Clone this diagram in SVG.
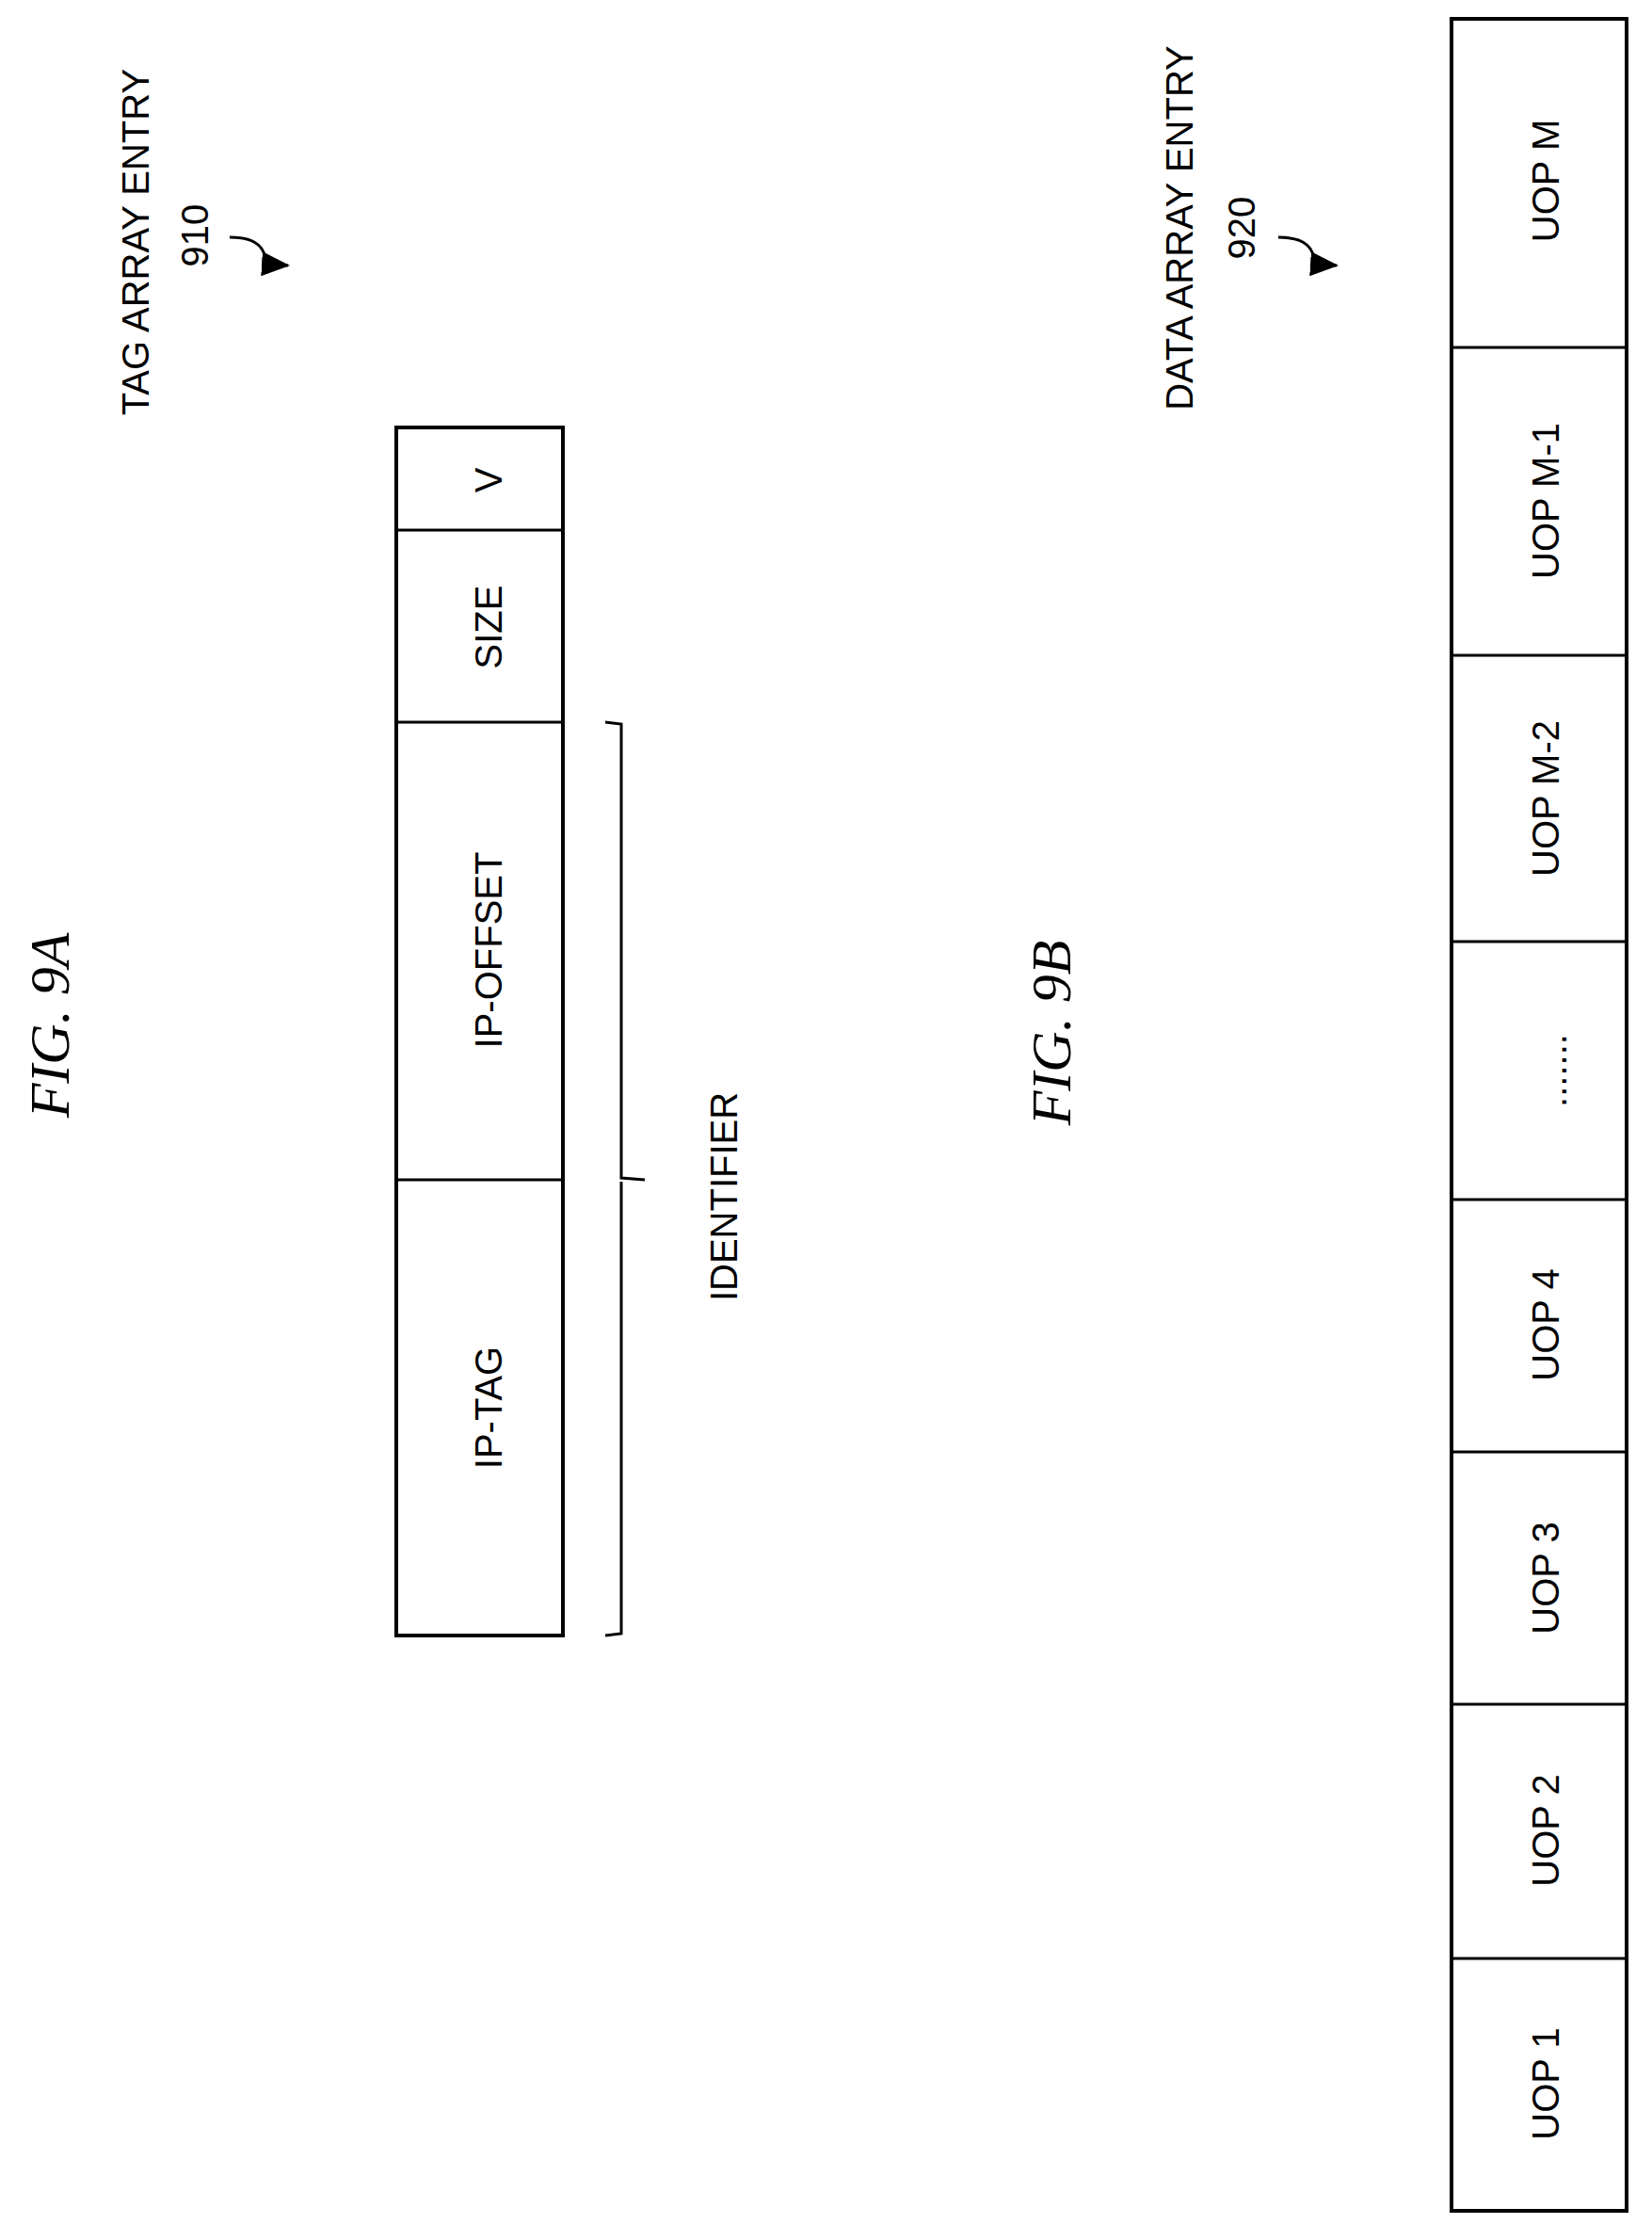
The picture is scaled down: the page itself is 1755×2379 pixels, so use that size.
<svg xmlns="http://www.w3.org/2000/svg" width="1755" height="2379" viewBox="0 0 1755 2379">
<style>
.t{font-family:"Liberation Sans",Arial,sans-serif;font-size:40px;fill:#000;text-anchor:middle;dominant-baseline:central}
.f{font-family:"Liberation Serif","Times New Roman",serif;font-style:italic;font-size:60px;fill:#000;text-anchor:middle;dominant-baseline:central}
.b{fill:#fff;stroke:#000;stroke-width:4}
.l{fill:none;stroke:#000;stroke-width:3}
</style>
<defs>
<marker id="ah2" markerWidth="30" markerHeight="26" refX="28" refY="13" orient="auto" markerUnits="userSpaceOnUse"><path d="M0,0L30,13L0,26z" fill="#000"/></marker></defs>
<text class="f" transform="translate(53,1089) rotate(-90)">FIG. 9A</text>
<text class="f" transform="translate(1117,1097) rotate(-90)">FIG. 9B</text>
<g id="tag-label"><text class="t" transform="translate(144,257) rotate(-90)" font-size="42">TAG ARRAY ENTRY</text><text class="t" transform="translate(207,250) rotate(-90)" font-size="42">910</text></g>
<g id="data-label"><text class="t" transform="translate(1253,242) rotate(-90)" font-size="42">DATA ARRAY ENTRY</text><text class="t" transform="translate(1319,242) rotate(-90)" font-size="42">920</text></g>
<g id="connectors">
<path class="l" d="M244,252 C264,252 276,258 280,268 C283,276 290,281 306,282" marker-end="url(#ah2)"/>
<path class="l" d="M1358,252 C1378,252 1390,258 1394,268 C1397,276 1404,281 1420,282" marker-end="url(#ah2)"/>
<path class="l" d="M643,767 L660,769 L660,1251 L685,1253 M660,1255 L660,1735 L643,1737"/>
</g>
<g id="tag-entry">
<rect class="b" x="421" y="454" width="177" height="1283"/>
<line class="l" x1="421" y1="563" x2="598" y2="563"/>
<line class="l" x1="421" y1="767" x2="598" y2="767"/>
<line class="l" x1="421" y1="1253" x2="598" y2="1253"/>
<text class="t" transform="translate(519,510) rotate(-90)">V</text>
<text class="t" transform="translate(519,666) rotate(-90)">SIZE</text>
<text class="t" transform="translate(519,1009) rotate(-90)">IP-OFFSET</text>
<text class="t" transform="translate(519,1495) rotate(-90)">IP-TAG</text>
</g>
<g id="identifier"><text class="t" transform="translate(769,1271) rotate(-90)">IDENTIFIER</text></g>
<g id="data-entry">
<rect class="b" x="1542" y="20" width="186" height="2328" stroke-width="5"/>
<g class="l"><line x1="1542" y1="369" x2="1728" y2="369"/><line x1="1542" y1="696" x2="1728" y2="696"/><line x1="1542" y1="1000" x2="1728" y2="1000"/><line x1="1542" y1="1274" x2="1728" y2="1274"/><line x1="1542" y1="1542" x2="1728" y2="1542"/><line x1="1542" y1="1810" x2="1728" y2="1810"/><line x1="1542" y1="2080" x2="1728" y2="2080"/></g>
<text class="t" transform="translate(1642,192) rotate(-90)">UOP M</text>
<text class="t" transform="translate(1642,532) rotate(-90)">UOP M-1</text>
<text class="t" transform="translate(1642,848) rotate(-90)">UOP M-2</text>
<text class="t" transform="translate(1650,1137) rotate(-90)">.......</text>
<text class="t" transform="translate(1642,1407) rotate(-90)">UOP 4</text>
<text class="t" transform="translate(1642,1676) rotate(-90)">UOP 3</text>
<text class="t" transform="translate(1642,1944) rotate(-90)">UOP 2</text>
<text class="t" transform="translate(1642,2213) rotate(-90)">UOP 1</text>
</g>
</svg>
